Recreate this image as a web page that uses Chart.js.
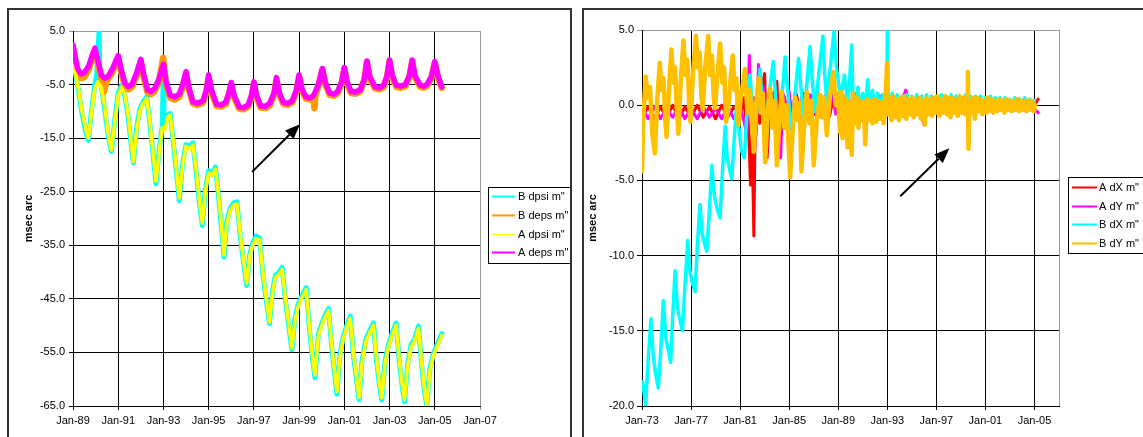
<!DOCTYPE html>
<html>
<head>
<meta charset="utf-8">
<title>msec arc</title>
<script src="https://cdn.jsdelivr.net/npm/chart.js@4.4.0/dist/chart.umd.min.js"></script>
<style>
  html, body { margin: 0; padding: 0; background: #fff; overflow: hidden; }
  body { width: 1143px; height: 437px; position: relative; }
  .frame { position: absolute; border: 2px solid #333; box-sizing: border-box; }
  #leftFrame { left: 7px; top: 8px; width: 565px; height: 460px; }
  #rightFrame { left: 582px; top: 8px; width: 600px; height: 460px; }
  canvas { position: absolute; }
  #leftChart { left: 9px; top: 10px; }
  #rightChart { left: 584px; top: 10px; }
</style>
</head>
<body>
<div class="frame" id="leftFrame"></div>
<div class="frame" id="rightFrame"></div>
<canvas id="leftChart" width="561" height="430"></canvas>
<canvas id="rightChart" width="559" height="430"></canvas>
<script>
// ---- left chart: dpsi / deps, years 1989-2005 ----
const leftYearTicks = [1989, 1991, 1993, 1995, 1997, 1999, 2001, 2003, 2005, 2007];
const leftValueTicks = [-65, -55, -45, -35, -25, -15, -5, 5];
const leftLabels = ['B dpsi m"', 'B deps m"', 'A dpsi m"', 'A deps m"'];

// [year, msec arc]
const bDpsi = [
  [1989.00, -0.8], [1989.10, -2.6], [1989.25, -6.3], [1989.40, -10.4], [1989.55, -13.6], [1989.68, -15.4],
  [1989.80, -10.6], [1989.95, -5.4], [1990.05, -3.0], [1990.15, 4.8], [1990.20, -4.2], [1990.28, -6.0],
  [1990.40, -9.6], [1990.55, -14.4], [1990.70, -17.5], [1990.85, -11.6], [1991.00, -6.4], [1991.15, -5.2],
  [1991.30, -7.3], [1991.45, -11.4], [1991.55, -15.4], [1991.67, -19.6], [1991.80, -13.6], [1991.95, -9.6],
  [1992.10, -8.2], [1992.26, -7.3], [1992.40, -12.4], [1992.55, -18.4], [1992.67, -23.5], [1992.80, -17.6],
  [1992.95, -12.6], [1993.00, -0.5], [1993.02, -13.2], [1993.20, -10.6], [1993.30, -10.4], [1993.45, -16.4],
  [1993.60, -22.4], [1993.70, -26.7], [1993.85, -19.6], [1994.00, -16.2], [1994.15, -16.6], [1994.30, -15.9],
  [1994.45, -21.4], [1994.60, -27.4], [1994.72, -31.3], [1994.85, -24.6], [1995.00, -21.1], [1995.15, -21.6],
  [1995.30, -20.4], [1995.45, -26.4], [1995.58, -32.4], [1995.68, -37.2], [1995.80, -30.6], [1995.95, -28.1],
  [1996.10, -27.1], [1996.25, -26.9], [1996.40, -33.4], [1996.55, -38.4], [1996.68, -42.5], [1996.82, -36.6],
  [1996.95, -34.6], [1997.10, -33.3], [1997.25, -33.6], [1997.40, -40.4], [1997.55, -45.4], [1997.69, -49.6],
  [1997.82, -43.6], [1997.95, -40.6], [1998.10, -40.1], [1998.25, -39.1], [1998.40, -45.4], [1998.55, -50.4],
  [1998.68, -54.5], [1998.82, -48.6], [1998.95, -46.1], [1999.10, -44.6], [1999.31, -42.9], [1999.45, -50.4],
  [1999.60, -56.4], [1999.70, -59.7], [1999.85, -51.6], [2000.00, -49.6], [2000.15, -48.1], [2000.30, -46.8],
  [2000.45, -54.4], [2000.58, -59.4], [2000.67, -62.8], [2000.80, -55.6], [2000.95, -52.1], [2001.10, -50.1],
  [2001.26, -48.2], [2001.40, -55.4], [2001.55, -60.4], [2001.65, -63.8], [2001.78, -56.6], [2001.95, -52.6],
  [2002.10, -51.1], [2002.29, -49.5], [2002.42, -56.4], [2002.56, -61.4], [2002.66, -63.9], [2002.80, -56.6],
  [2002.95, -53.6], [2003.10, -51.6], [2003.29, -49.5], [2003.42, -56.4], [2003.56, -61.4], [2003.66, -64.2],
  [2003.80, -57.1], [2003.95, -53.6], [2004.10, -52.6], [2004.28, -50.1], [2004.42, -57.4], [2004.55, -62.4],
  [2004.65, -65.0], [2004.78, -58.1], [2004.95, -55.1], [2005.10, -53.6], [2005.31, -51.5]
];
const bDeps = [
  [1989.00, 1.8], [1989.08, 0.0], [1989.20, -2.6], [1989.35, -3.8], [1989.50, -3.6], [1989.70, -2.2],
  [1989.85, 0.0], [1989.97, 1.3], [1990.10, -1.0], [1990.25, -4.0], [1990.35, -6.5], [1990.50, -4.3],
  [1990.75, -2.6], [1990.90, -1.0], [1991.00, 0.0], [1991.12, -2.5], [1991.30, -5.3], [1991.45, -5.9],
  [1991.60, -5.5], [1991.80, -3.5], [1992.00, -0.7], [1992.12, -3.5], [1992.30, -6.5], [1992.45, -6.8],
  [1992.60, -6.3], [1992.80, -4.5], [1992.99, 0.0], [1993.03, -1.8], [1993.12, -5.0], [1993.30, -7.5],
  [1993.50, -7.8], [1993.70, -7.3], [1993.85, -5.5], [1994.00, -3.0], [1994.12, -5.8], [1994.30, -8.5],
  [1994.50, -8.8], [1994.75, -8.4], [1994.90, -6.4], [1995.00, -3.6], [1995.12, -6.3], [1995.35, -9.0],
  [1995.55, -9.1], [1995.75, -8.7], [1995.90, -6.8], [1996.00, -5.0], [1996.12, -7.3], [1996.35, -9.5],
  [1996.55, -9.6], [1996.75, -9.1], [1996.90, -7.3], [1997.00, -4.8], [1997.12, -7.3], [1997.30, -9.3],
  [1997.50, -9.4], [1997.70, -8.9], [1997.90, -6.8], [1998.00, -4.0], [1998.12, -6.8], [1998.30, -8.6],
  [1998.50, -8.8], [1998.70, -8.3], [1998.88, -6.3], [1999.00, -3.4], [1999.12, -6.0], [1999.30, -7.6],
  [1999.50, -7.8], [1999.62, -7.2], [1999.68, -9.4], [1999.72, -7.0], [1999.85, -5.3], [2000.03, -2.2],
  [2000.15, -4.8], [2000.35, -6.9], [2000.55, -7.1], [2000.70, -6.6], [2000.88, -4.8], [2001.00, -2.0],
  [2001.12, -4.8], [2001.30, -6.6], [2001.50, -6.7], [2001.70, -6.3], [2001.88, -4.3], [2002.00, -0.8],
  [2002.12, -3.8], [2002.35, -5.7], [2002.55, -5.9], [2002.73, -5.5], [2002.88, -3.8], [2003.00, -0.6],
  [2003.12, -3.6], [2003.30, -5.4], [2003.50, -5.6], [2003.70, -5.3], [2003.88, -3.6], [2004.00, -0.6],
  [2004.12, -3.6], [2004.35, -5.4], [2004.50, -5.6], [2004.65, -5.3], [2004.85, -3.8], [2005.00, -0.9],
  [2005.15, -3.8], [2005.31, -5.6]
];
const aDpsi = [
  [1989.00, -1.5], [1989.10, -3.0], [1989.25, -6.0], [1989.40, -10.0], [1989.55, -13.0], [1989.68, -15.0],
  [1989.80, -11.0], [1989.95, -6.0], [1990.10, -4.5], [1990.25, -5.5], [1990.40, -9.0], [1990.55, -14.0],
  [1990.70, -17.2], [1990.85, -12.0], [1991.00, -7.0], [1991.15, -5.5], [1991.30, -7.0], [1991.45, -11.0],
  [1991.55, -15.0], [1991.67, -19.4], [1991.80, -14.0], [1991.95, -10.0], [1992.10, -8.5], [1992.26, -7.6],
  [1992.40, -12.0], [1992.55, -18.0], [1992.67, -23.0], [1992.80, -18.0], [1992.95, -13.0], [1993.05, -13.5],
  [1993.20, -11.0], [1993.30, -10.7], [1993.45, -16.0], [1993.60, -22.0], [1993.70, -26.2], [1993.85, -20.0],
  [1994.00, -16.5], [1994.15, -17.0], [1994.30, -16.3], [1994.45, -21.0], [1994.60, -27.0], [1994.72, -30.9],
  [1994.85, -25.0], [1995.00, -21.5], [1995.15, -22.0], [1995.30, -20.8], [1995.45, -26.0], [1995.58, -32.0],
  [1995.68, -36.8], [1995.80, -31.0], [1995.95, -28.5], [1996.10, -27.5], [1996.25, -27.3], [1996.40, -33.0],
  [1996.55, -38.0], [1996.68, -42.1], [1996.82, -37.0], [1996.95, -35.0], [1997.10, -33.8], [1997.25, -34.0],
  [1997.40, -40.0], [1997.55, -45.0], [1997.69, -49.3], [1997.82, -44.0], [1997.95, -41.0], [1998.10, -40.5],
  [1998.25, -39.5], [1998.40, -45.0], [1998.55, -50.0], [1998.68, -54.2], [1998.82, -49.0], [1998.95, -46.5],
  [1999.10, -45.0], [1999.31, -43.3], [1999.45, -50.0], [1999.60, -56.0], [1999.70, -59.2], [1999.85, -52.0],
  [2000.00, -50.0], [2000.15, -48.5], [2000.30, -47.2], [2000.45, -54.0], [2000.58, -59.0], [2000.67, -62.3],
  [2000.80, -56.0], [2000.95, -52.5], [2001.10, -50.5], [2001.26, -48.6], [2001.40, -55.0], [2001.55, -60.0],
  [2001.65, -63.4], [2001.78, -57.0], [2001.95, -53.0], [2002.10, -51.5], [2002.29, -49.9], [2002.42, -56.0],
  [2002.56, -61.0], [2002.66, -63.5], [2002.80, -57.0], [2002.95, -54.0], [2003.10, -52.0], [2003.29, -49.9],
  [2003.42, -56.0], [2003.56, -61.0], [2003.66, -63.8], [2003.80, -57.5], [2003.95, -54.0], [2004.10, -53.0],
  [2004.28, -50.5], [2004.42, -57.0], [2004.55, -62.0], [2004.65, -64.8], [2004.78, -58.5], [2004.95, -55.5],
  [2005.10, -54.0], [2005.31, -51.8]
];
const aDeps = [
  [1989.00, 2.4], [1989.08, 0.5], [1989.20, -2.0], [1989.35, -3.0], [1989.50, -2.8], [1989.70, -1.5],
  [1989.85, 0.5], [1989.97, 1.8], [1990.10, -0.5], [1990.25, -3.2], [1990.40, -3.8], [1990.55, -3.5],
  [1990.75, -2.0], [1990.90, -0.5], [1991.00, 0.4], [1991.12, -2.0], [1991.30, -4.8], [1991.45, -5.4],
  [1991.60, -5.0], [1991.80, -3.0], [1992.00, -0.3], [1992.12, -3.0], [1992.30, -6.0], [1992.45, -6.3],
  [1992.60, -5.8], [1992.80, -4.0], [1993.00, -1.2], [1993.12, -4.5], [1993.30, -7.0], [1993.50, -7.3],
  [1993.70, -6.8], [1993.85, -5.0], [1994.00, -2.6], [1994.12, -5.5], [1994.30, -8.2], [1994.50, -8.5],
  [1994.75, -8.0], [1994.90, -6.0], [1995.00, -3.2], [1995.12, -6.0], [1995.35, -8.7], [1995.55, -8.8],
  [1995.75, -8.3], [1995.90, -6.5], [1996.00, -4.6], [1996.12, -7.0], [1996.35, -9.2], [1996.55, -9.3],
  [1996.75, -8.8], [1996.90, -7.0], [1997.00, -4.5], [1997.12, -7.0], [1997.30, -9.0], [1997.50, -9.1],
  [1997.70, -8.5], [1997.90, -6.5], [1998.00, -3.7], [1998.12, -6.5], [1998.30, -8.3], [1998.50, -8.5],
  [1998.70, -8.0], [1998.88, -6.0], [1999.00, -3.2], [1999.12, -5.8], [1999.30, -7.3], [1999.50, -7.5],
  [1999.65, -7.0], [1999.85, -5.0], [2000.03, -2.0], [2000.15, -4.5], [2000.35, -6.6], [2000.55, -6.8],
  [2000.70, -6.3], [2000.88, -4.5], [2001.00, -1.8], [2001.12, -4.5], [2001.30, -6.3], [2001.50, -6.4],
  [2001.70, -6.0], [2001.88, -4.0], [2002.00, -0.6], [2002.12, -3.5], [2002.35, -5.4], [2002.55, -5.6],
  [2002.73, -5.2], [2002.88, -3.5], [2003.00, -0.4], [2003.12, -3.3], [2003.30, -5.1], [2003.50, -5.3],
  [2003.70, -5.0], [2003.88, -3.3], [2004.00, -0.4], [2004.12, -3.3], [2004.35, -5.1], [2004.50, -5.3],
  [2004.65, -5.0], [2004.85, -3.5], [2005.00, -0.7], [2005.15, -3.5], [2005.31, -5.4]
];

// ---- right chart: dX / dY, years 1973-2005 ----
const rightYearTicks = [1973, 1977, 1981, 1985, 1989, 1993, 1997, 2001, 2005];
const rightValueTicks = [-20, -15, -10, -5, 0, 5];
const rightLabels = ['A dX m"', 'A dY m"', 'B dX m"', 'B dY m"'];

const aDX = [
  [1973.0, -0.8], [1973.5, -0.1], [1974.0, -0.9], [1974.5, -0.1], [1975.0, -0.8], [1975.5, 0.0],
  [1976.0, -0.9], [1976.5, -0.1], [1977.0, -0.8], [1977.5, 0.0], [1978.0, -0.8], [1978.5, -0.1],
  [1979.0, -0.9], [1979.5, 0.0], [1980.0, -0.8], [1980.5, -0.1], [1981.0, -0.7], [1981.3, 0.5],
  [1981.5, -1.5], [1981.6, 1.0], [1981.75, -3.0], [1981.85, -5.3], [1981.95, -2.0], [1982.05, -5.5],
  [1982.12, -8.7], [1982.2, -3.0], [1982.35, 0.5], [1982.6, -1.2], [1982.85, 1.5], [1983.0, 2.1],
  [1983.1, -1.0], [1983.2, -3.5], [1983.4, -0.5], [1983.6, 0.8], [1983.8, -1.2], [1984.0, 1.6],
  [1984.15, -1.5], [1984.35, -0.3], [1984.6, 0.6], [1984.85, -0.8], [1985.0, 0.5], [1985.3, -0.8],
  [1985.6, 0.7], [1985.9, -0.5], [1986.2, 0.8], [1986.5, -0.7], [1986.8, 0.6], [1987.1, -0.6],
  [1987.4, 0.7], [1987.7, -0.5], [1988.0, 0.6], [1988.3, -0.7], [1988.6, 0.5], [1988.9, -0.5],
  [1989.4, 0.4], [1989.9, -0.5], [1990.4, 0.4], [1990.9, -0.4], [1991.4, 0.3], [1991.9, -0.4],
  [1992.4, 0.4], [1992.9, -0.3], [1993.4, 0.3], [1993.9, -0.4], [1994.4, 0.3], [1994.9, -0.3],
  [1995.4, 0.3], [1995.9, -0.3], [1996.4, 0.3], [1996.9, -0.3], [1997.4, 0.3], [1997.9, -0.2],
  [1998.4, 0.3], [1998.9, -0.3], [1999.4, 0.2], [1999.9, -0.3], [2000.4, 0.3], [2000.9, -0.2],
  [2001.4, 0.2], [2001.9, -0.2], [2002.4, 0.2], [2002.9, -0.2], [2003.4, 0.2], [2003.9, -0.2],
  [2004.4, 0.2], [2004.9, -0.1], [2005.3, 0.4]
];
const aDY = [
  [1973.0, -0.2], [1973.5, -0.9], [1974.0, -0.1], [1974.5, -0.9], [1975.0, -0.2], [1975.5, -0.8],
  [1976.0, -0.1], [1976.5, -0.9], [1977.0, -0.2], [1977.5, -0.9], [1978.0, -0.1], [1978.5, -0.8],
  [1979.0, -0.2], [1979.5, -0.9], [1980.0, -0.1], [1980.5, -0.9], [1981.0, -0.2], [1981.3, -1.0],
  [1981.55, -2.0], [1981.75, 3.3], [1981.9, -1.0], [1982.1, 0.5], [1982.3, -2.0], [1982.5, 2.7],
  [1982.7, -0.5], [1982.9, 1.2], [1983.1, -1.8], [1983.4, 0.8], [1983.6, -0.8], [1983.8, 0.9],
  [1984.0, -1.5], [1984.3, -3.5], [1984.5, 0.8], [1984.8, -0.5], [1985.0, 0.9], [1985.2, -0.9],
  [1985.5, 0.9], [1985.8, -0.6], [1986.1, 0.8], [1986.4, -0.9], [1986.7, 0.7], [1987.0, -0.5],
  [1987.3, 0.9], [1987.6, -0.8], [1987.9, 0.6], [1988.2, -0.7], [1988.5, 0.8], [1988.8, -0.6],
  [1989.1, 0.5], [1989.6, -0.4], [1990.1, 0.3], [1990.5, 0.8], [1990.9, -0.4], [1991.4, 0.3],
  [1991.9, -0.4], [1992.4, 0.6], [1992.9, -0.3], [1993.4, 0.3], [1993.9, -0.4], [1994.5, 1.0],
  [1994.9, -0.3], [1995.4, 0.3], [1996.0, -1.3], [1996.4, 0.3], [1996.9, -0.3], [1997.4, 0.4],
  [1997.9, -0.3], [1998.4, 0.3], [1998.9, -0.3], [1999.4, 0.3], [1999.9, -0.3], [2000.4, 0.3],
  [2000.9, -0.3], [2001.4, 0.2], [2001.9, -0.3], [2002.4, 0.2], [2002.9, -0.2], [2003.4, 0.2],
  [2003.9, -0.3], [2004.4, 0.2], [2004.9, -0.2], [2005.3, -0.5]
];
const bDX = [
  [1973.05, -18.4], [1973.3, -19.9], [1973.5, -17.0], [1973.73, -14.2], [1973.9, -16.5], [1974.1, -17.8],
  [1974.33, -18.8], [1974.55, -16.0], [1974.74, -13.0], [1974.95, -15.5], [1975.15, -16.3], [1975.34, -17.1],
  [1975.5, -14.0], [1975.7, -11.0], [1975.9, -13.5], [1976.1, -14.3], [1976.3, -15.0], [1976.5, -12.0],
  [1976.73, -9.0], [1976.9, -11.0], [1977.1, -11.8], [1977.33, -12.4], [1977.5, -9.5], [1977.73, -6.6],
  [1977.9, -8.5], [1978.1, -9.2], [1978.28, -9.7], [1978.5, -7.0], [1978.69, -4.0], [1978.9, -6.0],
  [1979.1, -6.8], [1979.37, -7.5], [1979.55, -4.5], [1979.78, -1.4], [1979.95, -3.5], [1980.15, -4.3],
  [1980.32, -4.9], [1980.5, -2.5], [1980.73, 0.2], [1980.9, -1.5], [1981.1, -3.0], [1981.35, -3.5],
  [1981.55, -0.5], [1981.8, 2.0], [1982.0, 0.0], [1982.2, -2.0], [1982.4, 0.0], [1982.63, 2.4],
  [1982.8, 0.2], [1983.0, -2.0], [1983.3, 0.3], [1983.7, 2.9], [1983.9, 0.5], [1984.1, -2.0],
  [1984.4, 0.5], [1984.67, 3.2], [1984.9, 0.8], [1985.2, -2.0], [1985.45, 0.5], [1985.76, 3.1],
  [1986.0, 0.8], [1986.2, -1.1], [1986.45, 1.5], [1986.7, 3.9], [1986.9, 1.5], [1987.1, -0.4],
  [1987.4, 2.0], [1987.75, 4.6], [1987.9, 2.0], [1988.07, 0.2], [1988.35, 2.5], [1988.67, 5.0],
  [1988.85, 2.5], [1989.2, 0.5], [1989.5, 2.0], [1989.8, 0.0], [1990.1, 4.0], [1990.2, 0.5],
  [1990.4, -0.6], [1990.6, 1.2], [1990.8, -0.5], [1991.0, 0.8], [1991.2, -0.4], [1991.4, 1.7],
  [1991.6, -0.3], [1991.8, 1.0], [1992.0, -0.4], [1992.2, 0.8], [1992.4, -0.3], [1992.6, 0.7],
  [1992.8, -0.4], [1992.97, 0.6], [1993.0, 5.0], [1993.03, 0.6], [1993.2, -0.4], [1993.4, 0.8],
  [1993.6, -0.3], [1993.8, 0.7], [1994.0, -0.4], [1994.2, 0.6], [1994.4, -0.4], [1994.6, 0.7],
  [1994.8, -0.3], [1995.0, 0.6], [1995.2, -0.4], [1995.4, 0.7], [1995.6, -0.5], [1995.8, 0.6],
  [1996.0, -0.4], [1996.2, 0.7], [1996.4, -0.3], [1996.6, 0.6], [1996.8, -0.5], [1997.0, 0.6],
  [1997.2, -0.3], [1997.4, 0.7], [1997.6, -0.4], [1997.8, 0.6], [1998.0, -0.3], [1998.2, 0.7],
  [1998.4, -0.4], [1998.6, 0.6], [1998.8, -0.3], [1999.0, 0.5], [1999.2, -0.4], [1999.4, 0.7],
  [1999.6, -0.3], [1999.8, 0.6], [2000.0, -0.4], [2000.2, 0.6], [2000.4, -0.3], [2000.6, 0.6],
  [2000.8, -0.3], [2001.0, 0.5], [2001.2, -0.3], [2001.4, 0.6], [2001.6, -0.3], [2001.8, 0.5],
  [2002.0, -0.3], [2002.2, 0.5], [2002.4, -0.2], [2002.6, 0.5], [2002.8, -0.3], [2003.0, 0.4],
  [2003.2, -0.2], [2003.4, 0.5], [2003.6, -0.3], [2003.8, 0.4], [2004.0, -0.2], [2004.2, 0.5],
  [2004.4, -0.2], [2004.6, 0.4], [2004.8, -0.2], [2005.0, 0.3]
];
const bDY = [
  [1973.0, -4.4], [1973.1, -1.0], [1973.3, 1.9], [1973.5, 0.5], [1973.65, 1.2], [1973.85, -2.0],
  [1974.05, -3.2], [1974.25, 0.5], [1974.45, 2.8], [1974.6, 1.0], [1974.75, 1.8], [1974.9, -1.0],
  [1975.0, -2.1], [1975.2, 1.0], [1975.4, 3.7], [1975.55, 1.5], [1975.7, 2.5], [1975.85, -0.5],
  [1975.97, -1.9], [1976.15, 1.5], [1976.38, 4.3], [1976.55, 2.0], [1976.7, 3.0], [1976.85, 0.0],
  [1976.95, -1.1], [1977.15, 2.0], [1977.4, 4.6], [1977.55, 2.5], [1977.7, 3.5], [1977.85, 0.5],
  [1977.95, -0.3], [1978.15, 2.5], [1978.4, 4.6], [1978.55, 2.0], [1978.7, 3.3], [1978.85, 0.5],
  [1978.95, -0.2], [1979.15, 2.0], [1979.37, 4.1], [1979.55, 1.5], [1979.7, 2.5], [1979.85, -1.1],
  [1980.0, -0.5], [1980.2, 1.5], [1980.4, 3.3], [1980.55, 1.0], [1980.7, 1.8], [1980.86, -1.3],
  [1981.05, 0.5], [1981.25, 1.5], [1981.4, 2.4], [1981.6, -0.5], [1981.8, 1.0], [1982.1, -3.1],
  [1982.3, 0.0], [1982.5, 1.8], [1982.7, -0.5], [1982.85, 0.8], [1983.04, -3.8], [1983.25, -0.5],
  [1983.45, 1.1], [1983.65, -1.5], [1983.8, 0.3], [1984.0, -4.0], [1984.2, -1.0], [1984.4, 0.9],
  [1984.6, -1.5], [1984.8, 0.0], [1985.08, -4.8], [1985.3, -1.5], [1985.5, 0.5], [1985.7, -1.0],
  [1985.85, 0.2], [1986.0, -4.4], [1986.25, -1.0], [1986.44, 0.9], [1986.65, -1.2], [1986.8, 0.3],
  [1987.0, -4.0], [1987.25, -1.0], [1987.53, 0.7], [1987.7, -0.8], [1987.85, 0.5], [1988.07, -2.0],
  [1988.3, 0.5], [1988.6, 2.2], [1988.8, 0.0], [1988.95, 0.8], [1989.16, -1.8], [1989.25, 0.9],
  [1989.35, -2.2], [1989.45, 0.6], [1989.55, -1.8], [1989.65, 0.4], [1989.75, -2.8], [1989.9, 0.2],
  [1990.0, -1.5], [1990.1, -3.3], [1990.2, 0.8], [1990.35, -1.2], [1990.5, 0.5], [1990.65, -1.5],
  [1990.8, 0.3], [1990.95, -1.0], [1991.1, 0.2], [1991.2, -2.6], [1991.35, 0.4], [1991.5, -1.0],
  [1991.65, 0.3], [1991.8, -1.2], [1991.95, 0.4], [1992.1, -1.1], [1992.25, 0.3], [1992.4, -0.9],
  [1992.55, 0.2], [1992.7, -1.2], [1992.85, 0.3], [1992.98, 2.8], [1993.02, -0.6], [1993.2, 0.5],
  [1993.35, -1.0], [1993.5, 0.6], [1993.65, -0.8], [1993.8, 0.4], [1993.95, -1.0], [1994.1, 0.5],
  [1994.25, -0.7], [1994.4, 0.6], [1994.55, -0.9], [1994.7, 0.4], [1994.85, -0.6], [1995.0, 0.5],
  [1995.15, -0.8], [1995.3, 0.4], [1995.45, -0.6], [1995.6, 0.5], [1995.75, -0.9], [1995.9, 0.3],
  [1996.05, -1.3], [1996.2, 0.5], [1996.35, -0.6], [1996.5, 0.4], [1996.65, -0.7], [1996.8, 0.5],
  [1996.95, -0.5], [1997.1, 0.6], [1997.25, -0.7], [1997.4, 0.4], [1997.55, -0.5], [1997.7, 0.6],
  [1997.85, -0.6], [1998.0, 0.5], [1998.15, -0.8], [1998.3, 0.5], [1998.45, -0.5], [1998.6, 0.4],
  [1998.75, -0.7], [1998.9, 0.6], [1999.05, -0.5], [1999.2, 0.5], [1999.35, -0.6], [1999.5, 0.4],
  [1999.57, 2.2], [1999.62, -2.9], [1999.7, 0.3], [1999.85, -0.5], [2000.0, 0.5], [2000.15, -0.9],
  [2000.3, 0.5], [2000.45, -0.4], [2000.6, 0.4], [2000.75, -0.6], [2000.9, 0.3], [2001.05, -0.5],
  [2001.2, 0.5], [2001.35, -0.4], [2001.5, 0.4], [2001.65, -0.5], [2001.8, 0.3], [2001.95, -0.4],
  [2002.1, 0.4], [2002.25, -0.3], [2002.4, 0.3], [2002.55, -0.5], [2002.7, 0.4], [2002.85, -0.3],
  [2003.0, 0.3], [2003.15, -0.4], [2003.3, 0.3], [2003.45, -0.3], [2003.6, 0.4], [2003.75, -0.4],
  [2003.9, 0.3], [2004.05, -0.3], [2004.2, 0.3], [2004.35, -0.4], [2004.5, 0.3], [2004.65, -0.3],
  [2004.8, 0.3], [2004.95, -0.4], [2005.05, 0.0]
];

// annotation arrows, in data units
const leftArrow = { from: [1996.92, -21.3], to: [1999.04, -12.4] };
const rightArrow = { from: [1994.06, -6.05], to: [1998.06, -2.86] };

Chart.defaults.font.family = "'Liberation Sans', Arial, sans-serif";
Chart.defaults.font.size = 11;
Chart.defaults.color = '#000';

const plotFrame = {
  id: 'plotFrame',
  beforeDraw(chart) {
    const { ctx, chartArea: a } = chart;
    ctx.save();
    ctx.strokeStyle = '#999';
    ctx.lineWidth = 1;
    ctx.strokeRect(Math.round(a.left) + 0.5, Math.round(a.top) + 0.5,
      Math.round(a.right - a.left), Math.round(a.bottom - a.top));
    ctx.restore();
  }
};

const arrowNote = {
  id: 'arrowNote',
  afterDatasetsDraw(chart, args, opts) {
    const { ctx, scales: { x, y } } = chart;
    const x0 = x.getPixelForValue(opts.from[0]), y0 = y.getPixelForValue(opts.from[1]);
    const x1 = x.getPixelForValue(opts.to[0]), y1 = y.getPixelForValue(opts.to[1]);
    const ang = Math.atan2(y1 - y0, x1 - x0);
    const head = 15, half = 6;
    const bx = x1 - head * Math.cos(ang), by = y1 - head * Math.sin(ang);
    ctx.save();
    ctx.strokeStyle = '#000';
    ctx.fillStyle = '#000';
    ctx.lineWidth = 2;
    ctx.beginPath();
    ctx.moveTo(x0, y0);
    ctx.lineTo(bx, by);
    ctx.stroke();
    ctx.beginPath();
    ctx.moveTo(x1, y1);
    ctx.lineTo(bx + half * Math.sin(ang), by - half * Math.cos(ang));
    ctx.lineTo(bx - half * Math.sin(ang), by + half * Math.cos(ang));
    ctx.closePath();
    ctx.fill();
    ctx.restore();
  }
};

// boxed legend like the Excel one
const boxLegend = {
  id: 'boxLegend',
  afterDraw(chart, args, o) {
    const ctx = chart.ctx;
    ctx.save();
    ctx.fillStyle = '#fff';
    ctx.fillRect(o.x, o.y, o.w, o.h);
    ctx.strokeStyle = '#000';
    ctx.lineWidth = 1;
    ctx.strokeRect(o.x + 0.5, o.y + 0.5, o.w, o.h);
    ctx.font = "11px 'Liberation Sans', Arial, sans-serif";
    ctx.textBaseline = 'middle';
    chart.data.datasets.forEach((ds, i) => {
      const yy = Math.round(o.y + o.first + i * o.step) + 0.5;
      ctx.strokeStyle = ds.borderColor;
      ctx.lineWidth = ds.swatchWidth;
      ctx.beginPath();
      ctx.moveTo(o.x + o.lineFrom, yy);
      ctx.lineTo(o.x + o.lineTo, yy);
      ctx.stroke();
      ctx.fillStyle = '#000';
      ctx.fillText(ds.label, o.x + o.textAt, yy);
    });
    ctx.restore();
  }
};

function makeChart(id, cfg) {
  const xMax = cfg.xMax, yMax = cfg.yMax;
  return new Chart(document.getElementById(id), {
    type: 'line',
    data: {
      datasets: cfg.series.map((s, i) => ({
        label: cfg.labels[i],
        data: s.data.map(([x, y]) => ({ x, y })),
        borderColor: s.color,
        borderWidth: s.width,
        swatchWidth: s.swatch,
        order: cfg.series.length - i,
        pointRadius: 0,
        tension: 0,
        fill: false,
        borderJoinStyle: 'round',
        borderCapStyle: 'round'
      }))
    },
    options: {
      responsive: false,
      animation: false,
      events: [],
      layout: { padding: cfg.padding },
      plugins: {
        legend: { display: false },
        tooltip: { enabled: false },
        boxLegend: cfg.legend,
        arrowNote: cfg.arrow
      },
      scales: {
        x: {
          type: 'linear',
          min: cfg.xMin,
          max: xMax,
          afterBuildTicks: scale => { scale.ticks = cfg.xTicks.map(v => ({ value: v })); },
          afterFit: scale => { scale.height = 24; },
          grid: {
            color: c => (c.tick && c.tick.value === xMax ? '#999' : '#000'),
            lineWidth: 1,
            tickLength: 4
          },
          border: { color: '#000', width: 1 },
          ticks: {
            autoSkip: false,
            maxRotation: 0,
            padding: 4,
            color: '#000',
            callback: v => 'Jan-' + String(v % 100).padStart(2, '0')
          }
        },
        y: {
          type: 'linear',
          min: cfg.yMin,
          max: yMax,
          afterBuildTicks: scale => { scale.ticks = cfg.yTicks.map(v => ({ value: v })); },
          afterFit: scale => { scale.width = cfg.yWidth; },
          grid: {
            color: c => (c.tick && c.tick.value === yMax ? '#999' : '#000'),
            lineWidth: 1,
            tickLength: cfg.yTickLen
          },
          border: { color: '#000', width: 1 },
          ticks: { padding: cfg.yTickPad, color: '#000', callback: v => v.toFixed(1) },
          title: {
            display: true,
            text: 'msec arc',
            color: '#000',
            font: { size: 11, weight: 'bold' },
            padding: { top: cfg.titlePad, bottom: 0 }
          }
        }
      }
    },
    plugins: [plotFrame, arrowNote, boxLegend]
  });
}

makeChart('leftChart', {
  labels: leftLabels,
  series: [
    { data: bDpsi, color: '#00FFFF', width: 5, swatch: 2 },
    { data: bDeps, color: '#FF9900', width: 6.5, swatch: 2 },
    { data: aDpsi, color: '#FFFF00', width: 3.5, swatch: 1.5 },
    { data: aDeps, color: '#FF00FF', width: 5.5, swatch: 2 }
  ],
  xMin: 1989, xMax: 2007, xTicks: leftYearTicks,
  yMin: -65, yMax: 5, yTicks: leftValueTicks,
  padding: { left: 0, top: 21, right: 90, bottom: 10 },
  yWidth: 64, yTickLen: 4, yTickPad: 4, titlePad: 13,
  legend: { x: 479, y: 177, w: 82, h: 76, first: 9, step: 18.8, lineFrom: 4, lineTo: 27, textAt: 30 },
  arrow: leftArrow
});

makeChart('rightChart', {
  labels: rightLabels,
  series: [
    { data: aDX, color: '#FF0000', width: 3, swatch: 2 },
    { data: aDY, color: '#FF00FF', width: 3, swatch: 2 },
    { data: bDX, color: '#00FFFF', width: 3.5, swatch: 2 },
    { data: bDY, color: '#FFC000', width: 4.5, swatch: 2 }
  ],
  xMin: 1973, xMax: 2007, xTicks: rightYearTicks,
  yMin: -20, yMax: 5, yTicks: rightValueTicks,
  padding: { left: 0, top: 20, right: 84, bottom: 10 },
  yWidth: 58, yTickLen: 5, yTickPad: 3, titlePad: 2.5,
  legend: { x: 484, y: 167, w: 90, h: 76, first: 10, step: 18.7, lineFrom: 4, lineTo: 29, textAt: 31 },
  arrow: rightArrow
});
</script>
</body>
</html>
